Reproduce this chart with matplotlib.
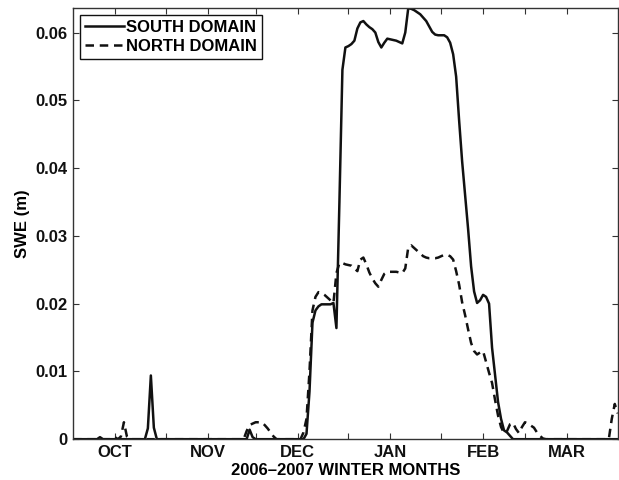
"""
Daily snow water equivalent for the south and north domains over the
2006-2007 winter (Oct 1 = day 0).
"""

import matplotlib
matplotlib.use('Agg')
import matplotlib.pyplot as plt
import numpy as np

plt.rcParams['font.family'] = ['Liberation Sans', 'DejaVu Sans']
plt.rcParams['font.weight'] = 'bold'
plt.rcParams['font.size'] = 12

# ── Data: SWE (m), one value per day starting 1 Oct 2006 ─────────────────────
SOUTH_SWE = [
    0, 0, 0, 0, 0, 0, 0, 0, 0, 0.0003,                                  # 0
    0, 0, 0, 0, 0, 0, 0, 0, 0, 0,                                       # 10
    0, 0, 0, 0, 0, 0.0016, 0.0094, 0.0017, 0, 0,                        # 20
    0, 0, 0, 0, 0, 0, 0, 0, 0, 0,                                       # 30
    0, 0, 0, 0, 0, 0, 0, 0, 0, 0,                                       # 40
    0, 0, 0, 0, 0, 0, 0, 0, 0, 0.0014,                                  # 50
    0.0003, 0, 0, 0, 0, 0, 0, 0, 0, 0,                                  # 60
    0, 0, 0, 0, 0, 0, 0, 0, 0.0008, 0.0070,                             # 70
    0.0172, 0.0190, 0.0196, 0.0199, 0.0199, 0.0199, 0.0199, 0.0201, 0.0164, 0.0350,  # 80
    0.0545, 0.0578, 0.0580, 0.0583, 0.0588, 0.0606, 0.0615, 0.0617, 0.0612, 0.0608,  # 90
    0.0605, 0.0600, 0.0586, 0.0578, 0.0585, 0.0591, 0.0590, 0.0589, 0.0588, 0.0586,  # 100
    0.0584, 0.0600, 0.0636, 0.0635, 0.0633, 0.0630, 0.0627, 0.0622, 0.0617, 0.0609,  # 110
    0.0601, 0.0597, 0.0596, 0.0596, 0.0596, 0.0593, 0.0585, 0.0568, 0.0535, 0.0470,  # 120
    0.0410, 0.0360, 0.0310, 0.0255, 0.0218, 0.0201, 0.0205, 0.0213, 0.0210, 0.0200,  # 130
    0.0135, 0.0095, 0.0055, 0.0030, 0.0013, 0.0010, 0.0005, 0, 0, 0,    # 140
    0, 0, 0, 0, 0, 0, 0, 0, 0, 0,                                       # 150
    0, 0, 0, 0, 0, 0, 0, 0, 0, 0,                                       # 160
    0, 0, 0, 0, 0, 0, 0, 0, 0, 0,                                       # 170
    0, 0, 0,                                                            # 180
]

NORTH_SWE = [
    0, 0, 0, 0, 0, 0, 0, 0, 0, 0,                                       # 0
    0, 0, 0, 0, 0.0003, 0, 0.0004, 0.0025, 0.0004, 0,                   # 10
    0, 0, 0, 0, 0, 0, 0, 0, 0, 0,                                       # 20
    0, 0, 0, 0, 0, 0, 0, 0, 0, 0,                                       # 30
    0, 0, 0, 0, 0, 0, 0, 0, 0, 0,                                       # 40
    0, 0, 0, 0, 0, 0, 0, 0, 0.0012, 0.0021,                             # 50
    0.0023, 0.0025, 0.0025, 0.0025, 0.0021, 0.0016, 0.0010, 0.0004, 0, 0,  # 60
    0, 0, 0, 0, 0, 0, 0, 0.0010, 0.0030, 0.0100,                        # 70
    0.0190, 0.0210, 0.0217, 0.0216, 0.0213, 0.0209, 0.0205, 0.0201, 0.0245, 0.0260,  # 80
    0.0260, 0.0258, 0.0257, 0.0256, 0.0252, 0.0248, 0.0265, 0.0268, 0.0258, 0.0246,  # 90
    0.0237, 0.0230, 0.0225, 0.0235, 0.0244, 0.0247, 0.0247, 0.0247, 0.0247, 0.0246,  # 100
    0.0245, 0.0252, 0.0283, 0.0286, 0.0282, 0.0278, 0.0274, 0.0270, 0.0268, 0.0267,  # 110
    0.0267, 0.0267, 0.0268, 0.0270, 0.0272, 0.0272, 0.0270, 0.0265, 0.0248, 0.0228,  # 120
    0.0202, 0.0183, 0.0162, 0.0142, 0.0130, 0.0125, 0.0128, 0.0130, 0.0114, 0.0098,  # 130
    0.0083, 0.0058, 0.0035, 0.0018, 0.0009, 0.0012, 0.0022, 0.0024, 0.0015, 0.0009,  # 140
    0.0018, 0.0025, 0.0023, 0.0020, 0.0017, 0.0010, 0.0005, 0.0001, 0, 0,  # 150
    0, 0, 0, 0, 0, 0, 0, 0, 0, 0,                                       # 160
    0, 0, 0, 0, 0, 0, 0, 0, 0, 0,                                       # 170
    0.0030, 0.0052, 0.0038,                                             # 180
]

# Tick days: 1st and 15th of each month, labelled on the 15th
TICK_DAYS   = [14, 31, 45, 61, 75, 92, 106, 123, 137, 151, 165]
TICK_LABELS = ['OCT', '', 'NOV', '', 'DEC', '', 'JAN', '', 'FEB', '', 'MAR']
Y_TICKS     = [0, 0.01, 0.02, 0.03, 0.04, 0.05, 0.06]

# ── Figure ────────────────────────────────────────────────────────────────────
days = np.arange(len(SOUTH_SWE))

fig = plt.figure(figsize=(6.19, 4.80), dpi=100)
ax = fig.add_axes([0.118, 0.085, 0.880, 0.898])

ax.plot(days, SOUTH_SWE, color='#111111', lw=1.8, label='SOUTH DOMAIN')
ax.plot(days, NORTH_SWE, color='#111111', lw=1.8,
        linestyle=(0, (3.4, 2.3)), label='NORTH DOMAIN')

ax.set_xlim(0, len(SOUTH_SWE) - 1)
ax.set_ylim(0, max(SOUTH_SWE))

ax.set_xticks(TICK_DAYS)
ax.set_xticklabels(TICK_LABELS)
ax.set_yticks(Y_TICKS)
ax.set_yticklabels(['0'] + [f'{v:.2f}' for v in Y_TICKS[1:]])

ax.tick_params(direction='in', length=4, width=0.8, top=True, right=True,
               labelsize=12, colors='#333333', labelcolor='#111111')
ax.tick_params(axis='x', pad=4)
ax.tick_params(axis='y', pad=4)
for spine in ax.spines.values():
    spine.set_edgecolor('#333333')
    spine.set_linewidth(1.0)

ax.set_xlabel('2006\u20132007 WINTER MONTHS', fontsize=12, fontweight='bold',
              labelpad=2)
ax.set_ylabel('SWE (m)', fontsize=12, fontweight='bold', labelpad=4)

leg = ax.legend(loc='upper left', fontsize=12, fancybox=False, framealpha=1,
                edgecolor='#111111', borderpad=0.3, labelspacing=0.25,
                handlelength=2.35, handletextpad=0.15, borderaxespad=0.4)
leg.get_frame().set_linewidth(1.0)

fig.savefig('out.png', dpi=100)
